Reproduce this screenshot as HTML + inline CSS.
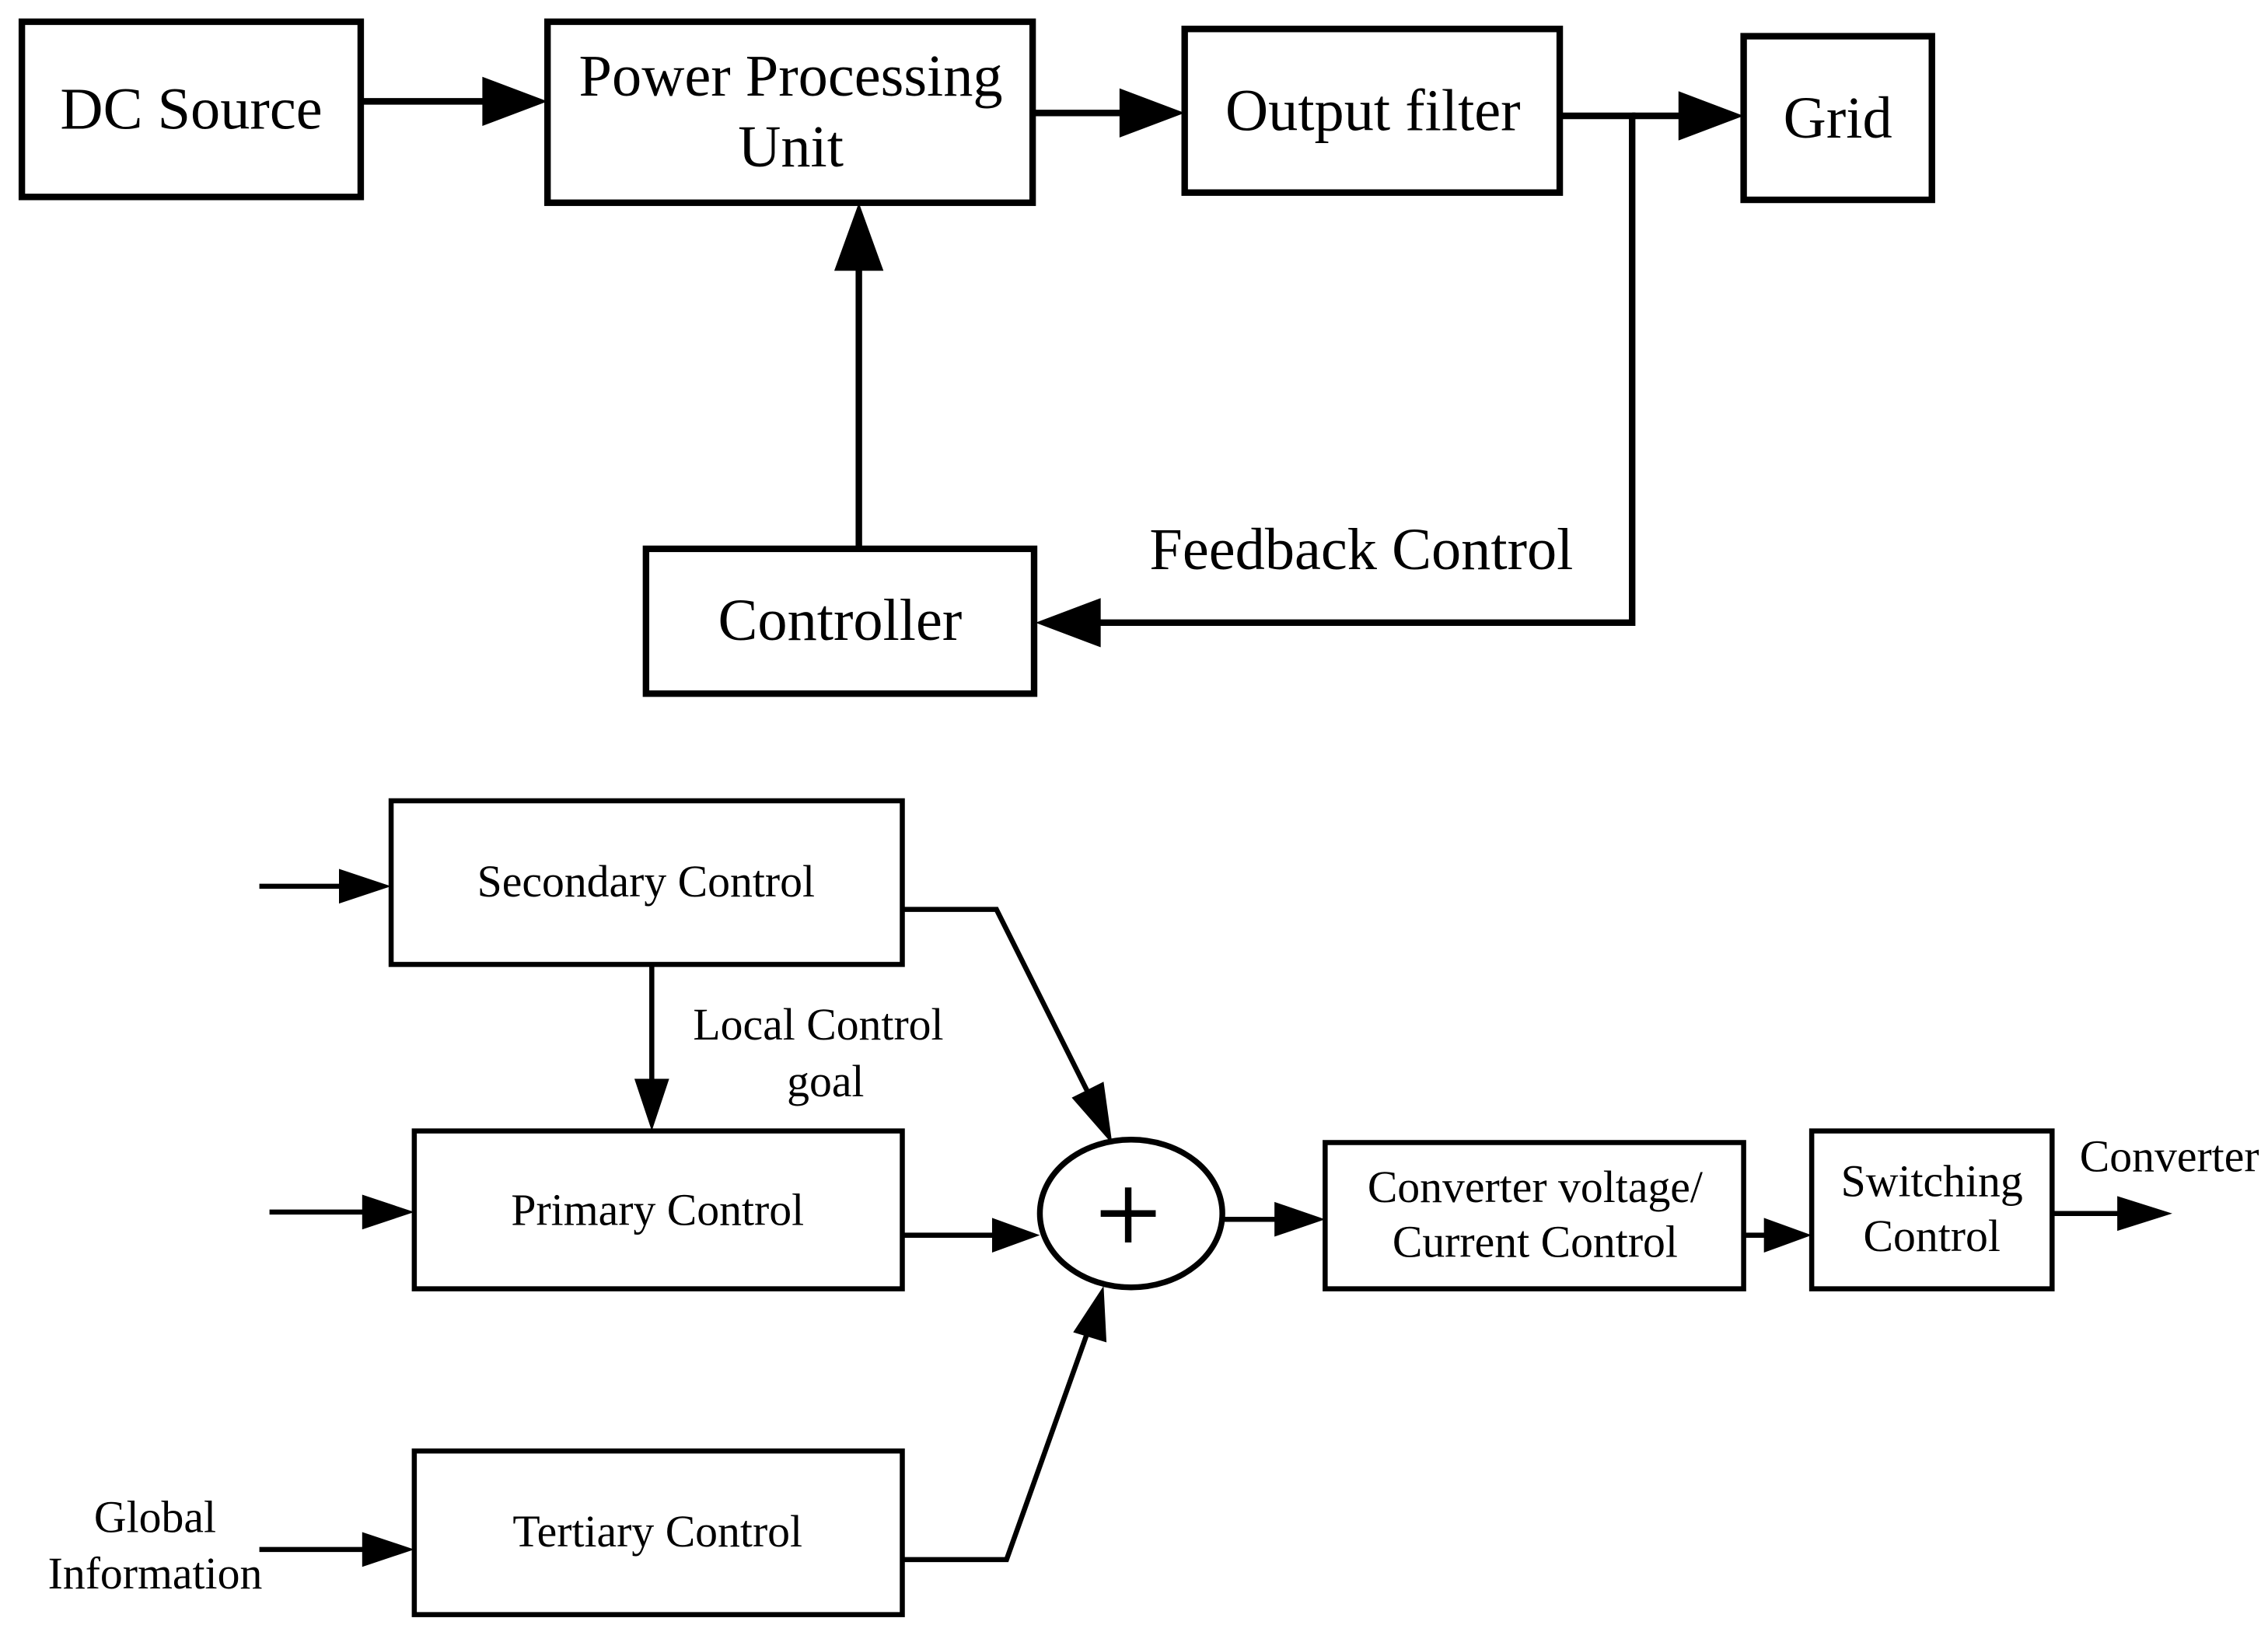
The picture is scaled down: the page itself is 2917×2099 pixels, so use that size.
<!DOCTYPE html>
<html><head><style>html,body{margin:0;padding:0;background:#fff}svg{display:block}</style></head>
<body>
<svg width="2917" height="2099" viewBox="0 0 1566 1127" xmlns="http://www.w3.org/2000/svg" font-family="Liberation Serif, serif" fill="#000">
<g fill="none" stroke="#000" stroke-width="4.5">
<rect x="15" y="15" width="234" height="121"/>
<rect x="378" y="15" width="335" height="125"/>
<rect x="818" y="20" width="259" height="113"/>
<rect x="1204" y="25" width="130" height="113"/>
<rect x="446" y="379" width="268" height="100"/>
<line x1="249" y1="70" x2="340" y2="70"/>
<line x1="713" y1="78" x2="780" y2="78"/>
<polyline points="1077,80 1127,80 1127,430 755,430"/>
<line x1="1127" y1="80" x2="1165" y2="80"/>
<line x1="593" y1="379" x2="593" y2="185"/>
</g>
<g stroke="none">
<polygon points="378,70 333,53 333,87"/>
<polygon points="818,78 773,61 773,95"/>
<polygon points="1204,80 1159,63 1159,97"/>
<polygon points="715,430 760,413 760,447"/>
<polygon points="593,140 576,187 610,187"/>
</g>
<g font-size="41" text-anchor="middle">
<text x="132" y="89">DC Source</text>
<text x="546" y="66">Power Processing</text>
<text x="546" y="115">Unit</text>
<text x="948" y="90">Output filter</text>
<text x="1269" y="95">Grid</text>
<text x="580" y="442">Controller</text>
<text x="940" y="393">Feedback Control</text>
</g>
<g fill="none" stroke="#000" stroke-width="3.5">
<rect x="270" y="553" width="353" height="113"/>
<rect x="286" y="781" width="337" height="109"/>
<rect x="286" y="1002" width="337" height="113"/>
<rect x="915" y="789" width="289" height="101"/>
<rect x="1251" y="781" width="166" height="109"/>
<ellipse cx="781" cy="838" rx="63" ry="51" stroke-width="4"/>
<line x1="179" y1="612" x2="240" y2="612"/>
<line x1="186" y1="837" x2="255" y2="837"/>
<line x1="179" y1="1070" x2="255" y2="1070"/>
<line x1="450" y1="666" x2="450" y2="750"/>
<polyline points="623,628 688,628 756,764"/>
<line x1="623" y1="853" x2="688" y2="853"/>
<polyline points="623,1077 695,1077 752,917"/>
<line x1="844" y1="842" x2="885" y2="842"/>
<line x1="1204" y1="853" x2="1222" y2="853"/>
<line x1="1417" y1="838" x2="1470" y2="838"/>
<line x1="779" y1="820" x2="779" y2="858" stroke-width="4.5"/>
<line x1="760" y1="838" x2="798" y2="838" stroke-width="4.5"/>
</g>
<g stroke="none">
<polygon points="270,612 234,600 234,624"/>
<polygon points="286,837 250,825 250,849"/>
<polygon points="286,1070 250,1058 250,1082"/>
<polygon points="450,781 438,745 462,745"/>
<polygon points="768,790 740,758 762,747"/>
<polygon points="718,853 685,841 685,865"/>
<polygon points="762,888 741,920 764,927"/>
<polygon points="915,842 880,830 880,854"/>
<polygon points="1251,853 1218,841 1218,865"/>
<polygon points="1500,838 1462,826 1462,850"/>
</g>
<g font-size="31" text-anchor="middle">
<text x="446" y="619">Secondary Control</text>
<text x="565" y="718">Local Control</text>
<text x="570" y="757">goal</text>
<text x="454" y="846">Primary Control</text>
<text x="454" y="1068">Tertiary Control</text>
<text x="107" y="1058">Global</text>
<text x="107" y="1097">Information</text>
<text x="1060" y="830">Converter voltage/</text>
<text x="1060" y="868">Current Control</text>
<text x="1334" y="826">Switching</text>
<text x="1334" y="864">Control</text>
<text x="1498" y="809">Converter</text>
</g>
</svg>
</body></html>
